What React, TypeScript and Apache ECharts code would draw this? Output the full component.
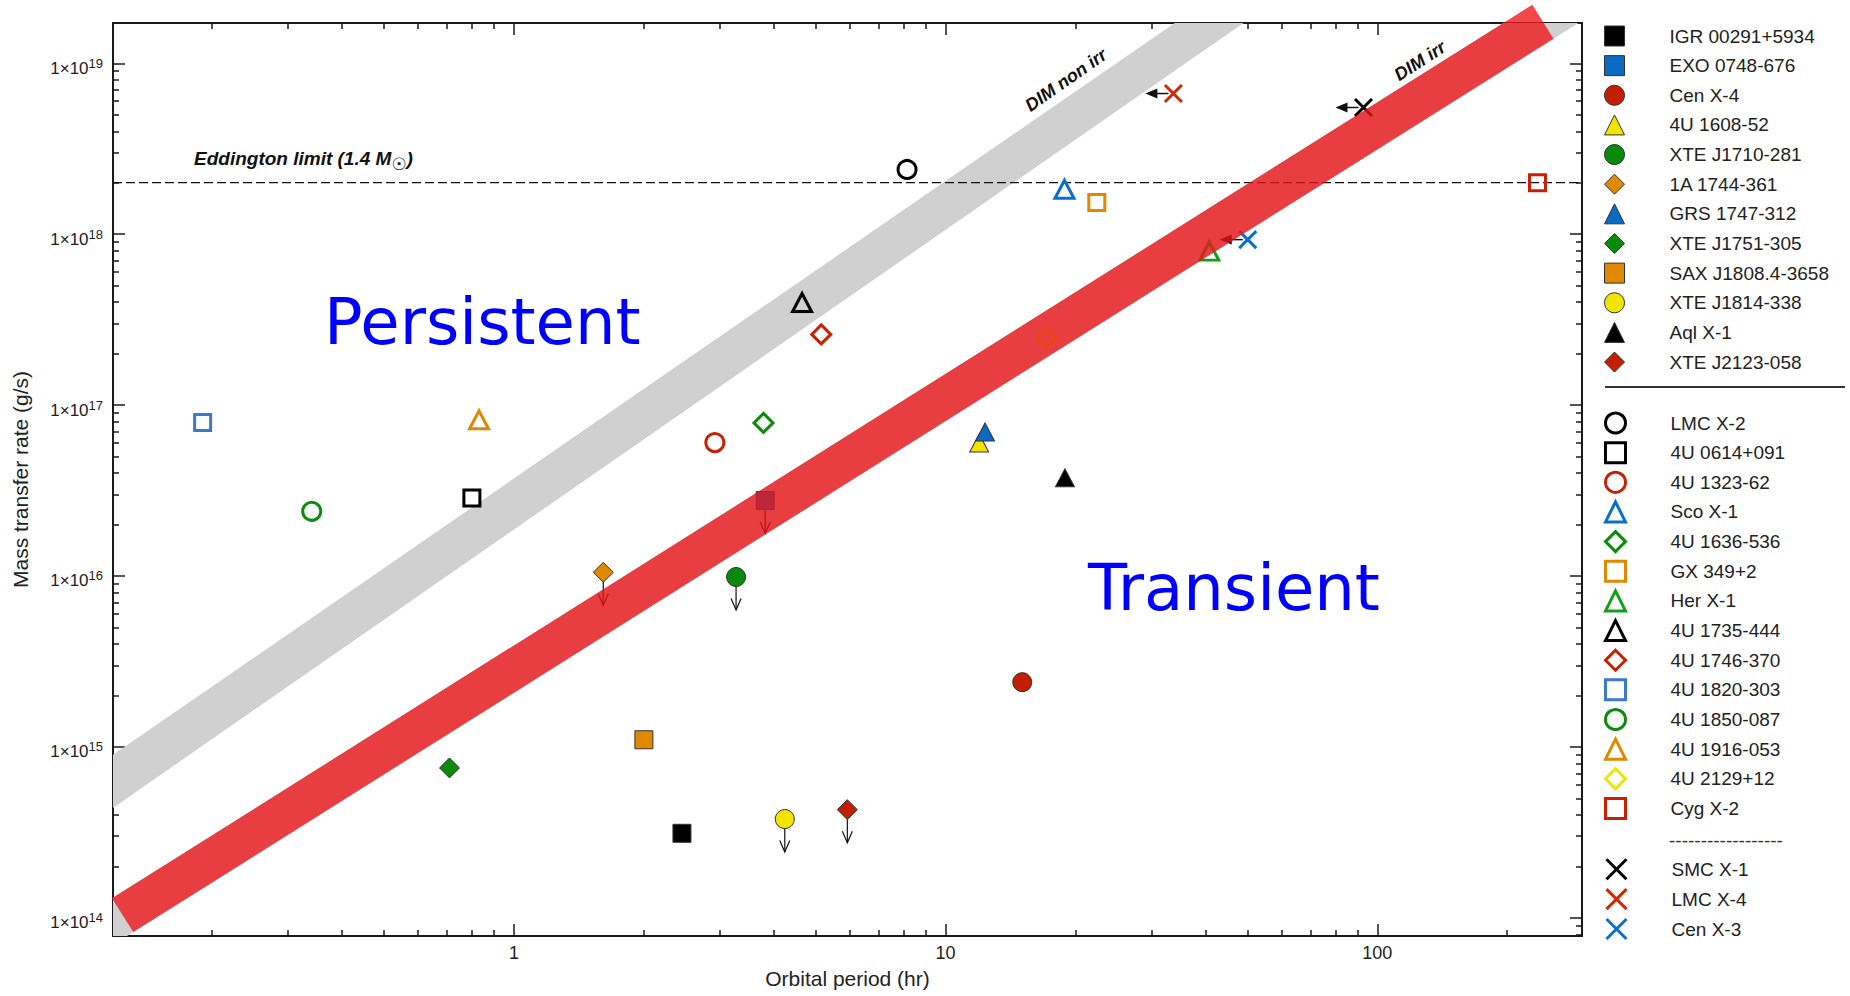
import React, { useEffect, useRef } from "react";
import * as echarts from "echarts";

// ---------- axis ranges & ticks ----------
const X_MIN = 0.1178;
const X_MAX = 298;
const Y_MIN = 7.82e13;
const Y_MAX = 1.72e19;
const EDDINGTON = 2.0e18;

const xMajorTicks = [1, 10, 100];
const xMinorTicks = [0.2, 0.3, 0.4, 0.5, 0.6, 0.7, 0.8, 0.9, 2, 3, 4, 5, 6, 7, 8, 9, 20, 30, 40, 50, 60, 70, 80, 90, 200];
const yMajorTicks = [1e14, 1e15, 1e16, 1e17, 1e18, 1e19];
const yMinorDecades = [1e14, 1e15, 1e16, 1e17, 1e18];
const yMinorMultipliers = [2, 3, 4, 5, 6, 7, 8, 9];
const yMinorTicks = [8e13, 9e13, ...yMinorDecades.flatMap((d) => yMinorMultipliers.map((m) => m * d))];

// ---------- transient systems (filled markers) ----------
const transientNames = ["IGR 00291+5934", "EXO 0748-676", "Cen X-4", "4U 1608-52", "XTE J1710-281", "1A 1744-361", "GRS 1747-312", "XTE J1751-305", "SAX J1808.4-3658", "XTE J1814-338", "Aql X-1", "XTE J2123-058"];
const transientPeriods = [2.45, 3.82, 15.05, 11.96, 3.27, 1.61, 12.34, 0.709, 2.0, 4.24, 18.9, 5.92];
const transientRates = [3.12e14, 2.76e16, 2.39e15, 6.0e16, 9.86e15, 1.05e16, 6.96e16, 7.53e14, 1.1e15, 3.78e14, 3.75e16, 4.29e14];
const transientUpperLimit = [false, true, false, false, true, true, false, false, false, true, false, true];

// ---------- persistent systems (open markers) ----------
const persistentNames = ["LMC X-2", "4U 0614+091", "4U 1323-62", "Sco X-1", "4U 1636-536", "GX 349+2", "Her X-1", "4U 1735-444", "4U 1746-370", "4U 1820-303", "4U 1850-087", "4U 1916-053", "4U 2129+12", "Cyg X-2"];
const persistentPeriods = [8.14, 0.799, 2.92, 18.85, 3.785, 22.4, 40.8, 4.65, 5.15, 0.19, 0.34, 0.83, 17.1, 235];
const persistentRates = [2.39e18, 2.86e16, 6.03e16, 1.83e18, 7.86e16, 1.53e18, 7.96e17, 3.98e17, 2.59e17, 7.9e16, 2.39e16, 8.2e16, 2.48e17, 2.0e18];

// ---------- high-mass systems (crosses, period upper limits) ----------
const hmxbNames = ["SMC X-1", "LMC X-4", "Cen X-3"];
const hmxbPeriods = [92.9, 33.7, 50.1];
const hmxbRates = [5.51e18, 6.65e18, 9.29e17];

// ---------- DIM critical bands (end points) ----------
const irrBandCentre = [0.124, 1.035e14, 241.9, 1.75e19];
const nonIrrUpperEdge = [0.0794, 4.52e14, 63.1, 5.06e19];
const nonIrrLowerEdge = [0.0794, 2.2e14, 63.1, 2.68e19];

// ---------- styles ----------
const FONT = '"Liberation Sans", Arial, Helvetica, sans-serif';
const transientSymbols = ["rect", "rect", "circle", "triangle", "circle", "diamond", "triangle", "diamond", "rect", "circle", "triangle", "diamond"];
const transientColors = ["#000000", "#0b6bc4", "#c41e00", "#f0e400", "#0a8a0a", "#e08800", "#0b6bc4", "#0a8a0a", "#e08800", "#f0e400", "#000000", "#c41e00"];
const persistentSymbols = ["circle", "rect", "circle", "triangle", "diamond", "rect", "triangle", "triangle", "diamond", "rect", "circle", "triangle", "diamond", "rect"];
const persistentColors = ["#000000", "#000000", "#c82000", "#0a6fc8", "#0c8c0c", "#e08800", "#14a014", "#000000", "#c82000", "#3a78d4", "#0c8c0c", "#e08800", "#e8e800", "#c82000"];
const hmxbColors = ["#000000", "#d02800", "#0a70d0"];
const CROSS = "path://M0 0L10 10M10 0L0 10";

const filledSize: Record<string, any> = { rect: 18, circle: 19, triangle: [19, 18], diamond: [20, 20] };
const openSize: Record<string, any> = { rect: 16, circle: 18, triangle: [19, 18], diamond: [19, 19] };

function buildOption() {
  const series: any[] = [];

  // grey non-irradiated band
  series.push({
    type: "custom",
    name: "DIM non irr band",
    silent: true,
    clip: true,
    z: 1,
    data: [[...nonIrrUpperEdge, ...nonIrrLowerEdge]],
    encode: { x: [0, 2, 4, 6], y: [1, 3, 5, 7] },
    renderItem: (_p: any, api: any) => {
      const a = api.coord([api.value(0), api.value(1)]);
      const b = api.coord([api.value(2), api.value(3)]);
      const c = api.coord([api.value(6), api.value(7)]);
      const d = api.coord([api.value(4), api.value(5)]);
      return { type: "polygon", shape: { points: [a, b, c, d] }, style: { fill: "#d0d0d0" } };
    },
  });

  const bandPoly = (api: any, hw: number, ext: number) => {
    const a = api.coord([api.value(0), api.value(1)]);
    const b = api.coord([api.value(2), api.value(3)]);
    const dx = b[0] - a[0];
    const dy = b[1] - a[1];
    const len = Math.hypot(dx, dy);
    const ux = dx / len, uy = dy / len;
    const nx = -uy * hw, ny = ux * hw;
    const a2 = [a[0] - ux * ext, a[1] - uy * ext];
    const b2 = [b[0] + ux * ext, b[1] + uy * ext];
    return [
      [a2[0] + nx, a2[1] + ny],
      [b2[0] + nx, b2[1] + ny],
      [b2[0] - nx, b2[1] - ny],
      [a2[0] - nx, a2[1] - ny],
    ];
  };

  // grey underlay of irradiated band (clipped)
  series.push({
    type: "custom",
    name: "DIM irr underlay",
    silent: true,
    clip: true,
    z: 1,
    data: [irrBandCentre],
    encode: { x: [0, 2], y: [1, 3] },
    renderItem: (_p: any, api: any) => ({ type: "polygon", shape: { points: bandPoly(api, 20, 80) }, style: { fill: "#d0d0d0" } }),
  });

  // Eddington limit
  series.push({
    type: "line",
    name: "Eddington",
    silent: true,
    symbol: "none",
    z: 2,
    data: [[X_MIN, EDDINGTON], [X_MAX, EDDINGTON]],
    lineStyle: { color: "#111", width: 1.2, type: [9, 4] },
  });

  transientNames.forEach((name, i) => {
    const s = transientSymbols[i];
    series.push({
      type: "scatter",
      name,
      silent: true,
      z: 3,
      symbol: s,
      symbolSize: filledSize[s],
      data: [[transientPeriods[i], transientRates[i]]],
      itemStyle: { color: transientColors[i], borderColor: "#333", borderWidth: 1, opacity: 1 },
    });
  });
  persistentNames.forEach((name, i) => {
    const s = persistentSymbols[i];
    series.push({
      type: "scatter",
      name,
      silent: true,
      z: 3,
      symbol: s,
      symbolSize: openSize[s],
      data: [[persistentPeriods[i], persistentRates[i]]],
      itemStyle: { color: "rgba(0,0,0,0)", borderColor: persistentColors[i], borderWidth: 3, opacity: 1 },
    });
  });
  hmxbNames.forEach((name, i) => {
    series.push({
      type: "scatter",
      name,
      silent: true,
      z: 3,
      symbol: CROSS,
      symbolSize: 17,
      data: [[hmxbPeriods[i], hmxbRates[i]]],
      itemStyle: { color: "none", borderColor: hmxbColors[i], borderWidth: 3, opacity: 1 },
    });
  });

  // upper-limit arrows (downward)
  series.push({
    type: "custom",
    name: "upper limits",
    silent: true,
    z: 3,
    data: transientNames.map((_, i) => [transientPeriods[i], transientRates[i]]).filter((_, i) => transientUpperLimit[i]),
    encode: { x: 0, y: 1 },
    renderItem: (_p: any, api: any) => {
      const p = api.coord([api.value(0), api.value(1)]);
      return {
        type: "group",
        children: [
          { type: "line", shape: { x1: p[0], y1: p[1] + 9, x2: p[0], y2: p[1] + 33 }, style: { stroke: "#111", lineWidth: 1.2 } },
          { type: "polyline", shape: { points: [[p[0] - 5, p[1] + 21.5], [p[0], p[1] + 33], [p[0] + 5, p[1] + 21.5]] }, style: { stroke: "#111", fill: null, lineWidth: 1.2 } },
        ],
      };
    },
  });

  // period upper-limit arrows (leftward)
  series.push({
    type: "custom",
    name: "period limits",
    silent: true,
    z: 3,
    data: hmxbNames.map((_, i) => [hmxbPeriods[i], hmxbRates[i]]),
    encode: { x: 0, y: 1 },
    renderItem: (_p: any, api: any) => {
      const p = api.coord([api.value(0), api.value(1)]);
      return {
        type: "group",
        children: [
          { type: "line", shape: { x1: p[0] - 5, y1: p[1], x2: p[0] - 17, y2: p[1] }, style: { stroke: "#111", lineWidth: 1.5 } },
          { type: "polygon", shape: { points: [[p[0] - 28, p[1]], [p[0] - 16, p[1] - 5], [p[0] - 16, p[1] + 5]] }, style: { fill: "#111" } },
        ],
      };
    },
  });

  // red irradiated band (semi-transparent, on top, not clipped)
  series.push({
    type: "custom",
    name: "DIM irr band",
    silent: true,
    clip: false,
    z: 4,
    data: [irrBandCentre],
    encode: { x: [0, 2], y: [1, 3] },
    renderItem: (_p: any, api: any) => ({ type: "polygon", shape: { points: bandPoly(api, 20, 0) }, style: { fill: "rgba(238,20,24,0.78)" } }),
  });

  const axisLineStyle = { color: "#1a1a1a", width: 2 };
  const tickStyle = { color: "#1a1a1a", width: 1.5 };
  const baseX = { type: "log", logBase: 10, min: X_MIN, max: X_MAX, splitLine: { show: false }, axisPointer: { show: false } };
  const baseY = { type: "log", logBase: 10, min: Y_MIN, max: Y_MAX, splitLine: { show: false }, axisPointer: { show: false } };

  const legendCommon = {
    orient: "vertical",
    left: 1604,
    padding: 0,
    itemWidth: 20,
    itemHeight: 20,
    selectedMode: false,
    textStyle: { fontSize: 19, color: "#222", fontFamily: FONT, padding: [0, 0, 0, 40], lineHeight: 20 },
  };

  return {
    animation: false,
    backgroundColor: "#ffffff",
    grid: { left: 113, right: 268, top: 23, bottom: 60, containLabel: false, outerBoundsMode: "none" },
    xAxis: [
      {
        ...baseX,
        position: "bottom",
        axisLine: { show: true, onZero: false, lineStyle: axisLineStyle },
        axisTick: { show: true, inside: true, length: 12, lineStyle: tickStyle, customValues: xMajorTicks },
        axisLabel: { show: true, customValues: xMajorTicks, margin: 8, fontSize: 18, color: "#222", fontFamily: FONT, formatter: (v: number) => String(Math.round(v)) },
        name: "Orbital period (hr)",
        nameLocation: "middle",
        nameGap: 32,
        nameTextStyle: { fontSize: 21, color: "#222", fontFamily: FONT },
      },
      { ...baseX, position: "bottom", axisLine: { show: false }, axisTick: { show: true, inside: true, length: 6, lineStyle: tickStyle, customValues: xMinorTicks }, axisLabel: { show: false } },
      { ...baseX, position: "top", axisLine: { show: true, onZero: false, lineStyle: axisLineStyle }, axisTick: { show: true, inside: true, length: 12, lineStyle: tickStyle, customValues: xMajorTicks }, axisLabel: { show: false } },
      { ...baseX, position: "top", axisLine: { show: false }, axisTick: { show: true, inside: true, length: 6, lineStyle: tickStyle, customValues: xMinorTicks }, axisLabel: { show: false } },
    ],
    yAxis: [
      {
        ...baseY,
        position: "left",
        axisLine: { show: true, onZero: false, lineStyle: axisLineStyle },
        axisTick: { show: true, inside: true, length: 12, lineStyle: tickStyle, customValues: yMajorTicks },
        axisLabel: {
          show: true,
          customValues: yMajorTicks,
          margin: 10,
          formatter: (v: number) => `{b|1×10}{s|${Math.round(Math.log10(v))}}`,
          rich: {
            b: { fontSize: 17, lineHeight: 17, verticalAlign: "bottom", color: "#222", fontFamily: FONT },
            s: { fontSize: 13, lineHeight: 27, verticalAlign: "middle", color: "#222", fontFamily: FONT },
          },
        },
        name: "Mass transfer rate (g/s)",
        nameLocation: "middle",
        nameGap: 82,
        nameRotate: 90,
        nameTextStyle: { fontSize: 21, color: "#222", fontFamily: FONT },
      },
      { ...baseY, position: "left", axisLine: { show: false }, axisTick: { show: true, inside: true, length: 6, lineStyle: tickStyle, customValues: yMinorTicks }, axisLabel: { show: false } },
      { ...baseY, position: "right", axisLine: { show: true, onZero: false, lineStyle: axisLineStyle }, axisTick: { show: true, inside: true, length: 12, lineStyle: tickStyle, customValues: yMajorTicks }, axisLabel: { show: false } },
      { ...baseY, position: "right", axisLine: { show: false }, axisTick: { show: true, inside: true, length: 6, lineStyle: tickStyle, customValues: yMinorTicks }, axisLabel: { show: false } },
    ],
    legend: [
      { ...legendCommon, top: 25.5, itemGap: 8.64, data: transientNames.map((n) => ({ name: n, itemStyle: { borderWidth: 1 } })) },
      { ...legendCommon, top: 411.5, itemGap: 6.65, data: persistentNames.map((n) => ({ name: n, itemStyle: { borderWidth: 3 } })) },
      { ...legendCommon, top: 856.7, itemGap: 4.9, data: hmxbNames.map((n) => ({ name: n, itemStyle: { borderWidth: 3 } })) },
    ],
    graphic: [
      { type: "line", shape: { x1: 1605, y1: 387, x2: 1845, y2: 387 }, style: { stroke: "#333", lineWidth: 2 }, z: 10 },
      { type: "text", x: 1669, y: 840, style: { text: "------------------", fontSize: 19, fontFamily: FONT, fill: "#333", verticalAlign: "middle" }, z: 10 },
      {
        type: "text",
        x: 194,
        y: 158,
        z: 10,
        style: {
          text: "Eddington limit (1.4 M{s|☉})",
          fontSize: 19,
          fontStyle: "italic",
          fontWeight: "bold",
          fontFamily: FONT,
          fill: "#111",
          verticalAlign: "middle",
          lineHeight: 28,
          rich: { s: { fontSize: 17, lineHeight: 17, verticalAlign: "bottom", fontFamily: '"DejaVu Sans"', fill: "#111", fontWeight: "bold" } },
        },
      },
      { type: "text", x: 1066, y: 80, rotation: (35 * Math.PI) / 180, z: 10, style: { text: "DIM non irr", fontSize: 18, fontStyle: "italic", fontWeight: "bold", fontFamily: FONT, fill: "#111", align: "center", verticalAlign: "middle" } },
      { type: "text", x: 1420, y: 61, rotation: (33 * Math.PI) / 180, z: 10, style: { text: "DIM irr", fontSize: 18, fontStyle: "italic", fontWeight: "bold", fontFamily: FONT, fill: "#111", align: "center", verticalAlign: "middle" } },
      { type: "text", x: 324, y: 322, z: 10, style: { text: "Persistent", fontSize: 64, fontFamily: '"DejaVu Sans"', fill: "#0000ff", verticalAlign: "middle" } },
      { type: "text", x: 1088, y: 588, z: 10, style: { text: "Transient", fontSize: 64, fontFamily: '"DejaVu Sans"', fill: "#0000ff", verticalAlign: "middle" } },
    ],
    series,
  };
}

export default function App() {
  const ref = useRef<HTMLDivElement>(null);
  useEffect(() => {
    if (!ref.current) return;
    const chart = echarts.init(ref.current, undefined, { renderer: "svg" });
    chart.setOption(buildOption() as any);
    return () => chart.dispose();
  }, []);
  return <div ref={ref} style={{ position: "fixed", left: 0, top: 0, width: 1850, height: 996, background: "#fff" }} />;
}
